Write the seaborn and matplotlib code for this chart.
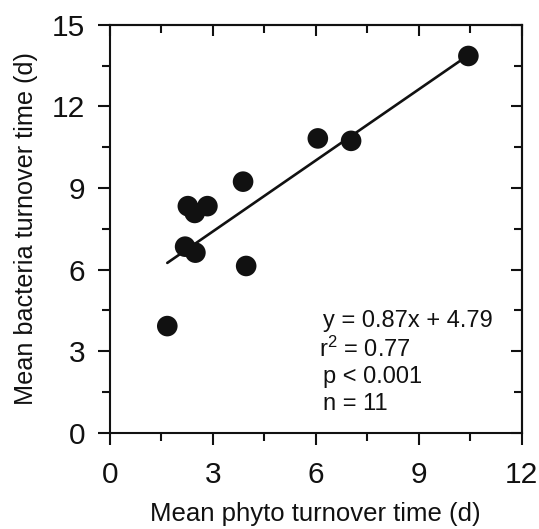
import matplotlib
matplotlib.use("Agg")
import matplotlib.pyplot as plt
import seaborn as sns
import numpy as np
import pandas as pd
from matplotlib.ticker import MultipleLocator

# ---- data ----
phyto_turnover = [1.67, 2.19, 2.49, 2.27, 2.47, 2.84, 3.88, 3.97, 6.06, 7.03, 10.45]
bacteria_turnover = [3.92, 6.84, 6.62, 8.33, 8.08, 8.33, 9.23, 6.13, 10.82, 10.73, 13.85]
fit_slope = 0.87
fit_intercept = 4.79
stats_lines = ["y = 0.87x + 4.79", "r$^{2}$ = 0.77", "p < 0.001", "n = 11"]
x_ticks = [0, 3, 6, 9, 12]
y_ticks = [0, 3, 6, 9, 12, 15]

df = pd.DataFrame({"phyto": phyto_turnover, "bact": bacteria_turnover})
fit_x = np.array([min(phyto_turnover), max(phyto_turnover)])
fit_df = pd.DataFrame({"x": fit_x, "y": fit_slope * fit_x + fit_intercept})

sns.set_theme(style="ticks")
plt.rcParams["font.family"] = ["Liberation Sans", "DejaVu Sans"]
plt.rcParams["mathtext.fontset"] = "custom"
plt.rcParams["mathtext.rm"] = "Liberation Sans"
plt.rcParams["mathtext.it"] = "Liberation Sans:italic"

INK = "#111111"

fig = plt.figure(figsize=(5.39, 5.29), dpi=100)
ax = fig.add_axes([0.2041, 0.182, 0.7635, 0.7713])

sns.lineplot(data=fit_df, x="x", y="y", ax=ax, color=INK, linewidth=1.9)
sns.scatterplot(data=df, x="phyto", y="bact", ax=ax, color=INK,
                s=220, edgecolor="none", zorder=3)

ax.set_xlim(0, 12)
ax.set_ylim(0, 15)
ax.set_xticks(x_ticks)
ax.set_yticks(y_ticks)
ax.xaxis.set_minor_locator(MultipleLocator(1.5))
ax.yaxis.set_minor_locator(MultipleLocator(1.5))

for sp in ax.spines.values():
    sp.set_visible(True)
    sp.set_linewidth(1.5)
    sp.set_color(INK)

ax.tick_params(which="major", direction="out", length=8.5, width=1.5,
               color=INK, labelsize=21.5, labelcolor=INK)
ax.tick_params(which="minor", direction="out", length=5.5, width=1.5, color=INK)
ax.tick_params(axis="x", which="major", pad=12)
ax.tick_params(axis="y", which="major", pad=9.5)

# top / right inward ticks
secx = ax.secondary_xaxis("top")
secx.set_xticks(x_ticks)
secx.xaxis.set_minor_locator(MultipleLocator(1.5))
secx.tick_params(which="major", direction="in", length=8, width=1.5,
                 color=INK, labeltop=False)
secx.tick_params(which="minor", direction="in", length=5.5, width=1.5, color=INK)
secx.spines["top"].set_linewidth(1.5)
secy = ax.secondary_yaxis("right")
secy.set_yticks(y_ticks)
secy.yaxis.set_minor_locator(MultipleLocator(1.5))
secy.tick_params(which="major", direction="in", length=8, width=1.5,
                 color=INK, labelright=False)
secy.tick_params(which="minor", direction="in", length=5.5, width=1.5, color=INK)
secy.spines["right"].set_linewidth(1.5)

ax.set_xlabel("Mean phyto turnover time (d)", fontsize=18.5, color=INK, labelpad=9.5)
ax.set_ylabel("Mean bacteria turnover time (d)", fontsize=18.2, color=INK, labelpad=10)

text_y = [4.11, 3.05, 2.06, 1.07]
text_x = [6.21, 6.09, 6.21, 6.21]
for tx, ty, s in zip(text_x, text_y, stats_lines):
    ax.text(tx, ty, s, fontsize=17, color=INK, va="center", ha="left")

fig.savefig("out.png", dpi=100)
